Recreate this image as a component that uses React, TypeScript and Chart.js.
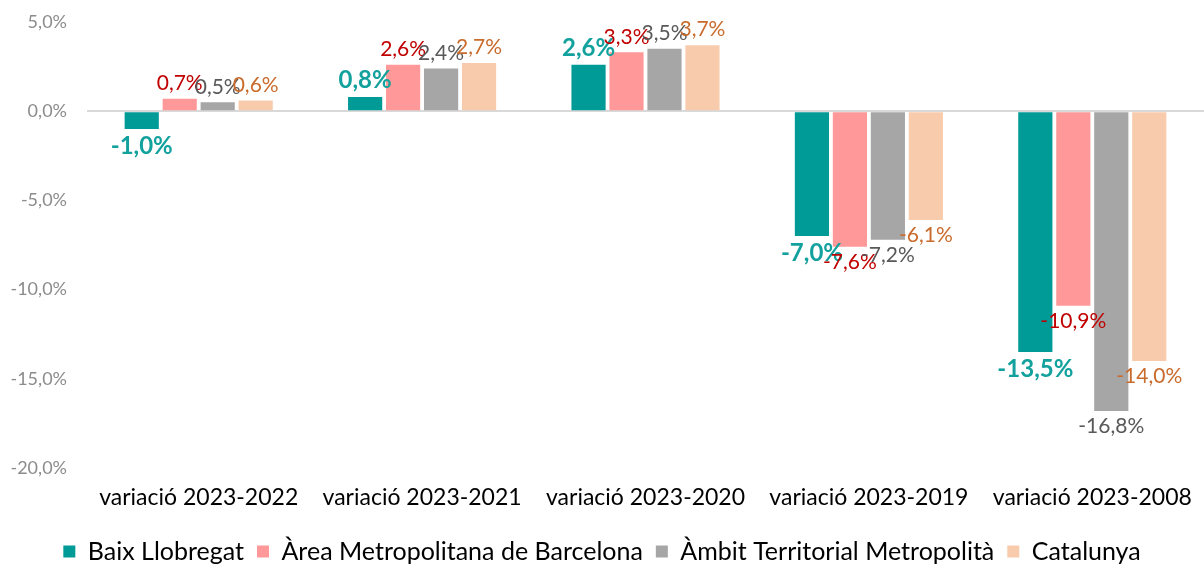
import React, { useEffect, useRef } from "react";
import { Chart, registerables } from "chart.js";

Chart.register(...registerables);

const categories = [
  "variació 2023-2022",
  "variació 2023-2021",
  "variació 2023-2020",
  "variació 2023-2019",
  "variació 2023-2008",
];
const seriesNames = [
  "Baix Llobregat",
  "Àrea Metropolitana de Barcelona",
  "Àmbit Territorial Metropolità",
  "Catalunya",
];
const baixLlobregat = [-1.0, 0.8, 2.6, -7.0, -13.5];
const areaMetropolitana = [0.7, 2.6, 3.3, -7.6, -10.9];
const ambitTerritorial = [0.5, 2.4, 3.5, -7.2, -16.8];
const catalunya = [0.6, 2.7, 3.7, -6.1, -14.0];

const barColors = ["#009A97", "#FF9999", "#A6A6A6", "#F8CBAD"];
const labelColors = ["#13A19D", "#C00000", "#595959", "#C96B2C"];
const FONT = "Lato, 'Open Sans', sans-serif";

const fmt = (v: number) => v.toFixed(1).replace(".", ",") + "%";

const dataLabelPlugin = {
  id: "dataLabels",
  afterDatasetsDraw(chart: any) {
    const ctx = chart.ctx;
    chart.data.datasets.forEach((ds: any, di: number) => {
      const meta = chart.getDatasetMeta(di);
      if (meta.hidden) return;
      ctx.save();
      ctx.fillStyle = labelColors[di];
      ctx.font = di === 0 ? `bold 24px ${FONT}` : `21px ${FONT}`;
      ctx.textAlign = "center";
      meta.data.forEach((el: any, i: number) => {
        const v = ds.data[i] as number;
        const text = fmt(v);
        if (v >= 0) {
          ctx.textBaseline = "bottom";
          ctx.fillText(text, el.x, el.y - 5);
        } else {
          ctx.textBaseline = "top";
          ctx.fillText(text, el.x, el.y + 5);
        }
      });
      ctx.restore();
    });
  },
};

export default function App() {
  const canvasRef = useRef<HTMLCanvasElement | null>(null);

  useEffect(() => {
    if (!canvasRef.current) return;
    const series = [baixLlobregat, areaMetropolitana, ambitTerritorial, catalunya];
    const chart = new Chart(canvasRef.current, {
      type: "bar",
      data: {
        labels: categories,
        datasets: series.map((d, i) => ({
          label: seriesNames[i],
          data: d,
          backgroundColor: barColors[i],
          borderWidth: 0,
          categoryPercentage: 0.68,
          barPercentage: 0.9,
        })),
      },
      options: {
        responsive: false,
        animation: false,
        maintainAspectRatio: false,
        layout: { padding: { top: 22, right: 0, left: 0, bottom: -10 } },
        plugins: {
          legend: {
            position: "bottom",
            labels: {
              boxWidth: 12,
              boxHeight: 12,
              padding: 13,
              color: "#000",
              font: { family: FONT, size: 25 },
            },
          },
          tooltip: { enabled: false },
        },
        scales: {
          x: {
            grid: { display: false },
            border: { display: false },
            ticks: {
              color: "#000",
              font: { family: FONT, size: 23 },
              padding: 8,
            },
            afterFit: (s: any) => {
              s.height = 58;
            },
          },
          y: {
            min: -20,
            max: 5,
            ticks: {
              stepSize: 5,
              color: "#8C8C8C",
              font: { family: FONT, size: 18 },
              padding: 20,
              callback: (v: any) => fmt(Number(v)),
            },
            grid: {
              drawTicks: false,
              lineWidth: 2,
              color: (c: any) => (c.tick && c.tick.value === 0 ? "#D9D9D9" : "rgba(0,0,0,0)"),
            },
            border: { display: false },
            afterFit: (s: any) => {
              s.width = 87;
              s.paddingTop = 0;
              s.paddingBottom = 0;
            },
          },
        },
      },
      plugins: [dataLabelPlugin],
    });
    return () => chart.destroy();
  }, []);

  return (
    <div style={{ position: "fixed", left: 0, top: 0, width: 1204, height: 564, background: "#fff" }}>
      <canvas ref={canvasRef} width={1204} height={564} style={{ width: 1204, height: 564 }} />
    </div>
  );
}
